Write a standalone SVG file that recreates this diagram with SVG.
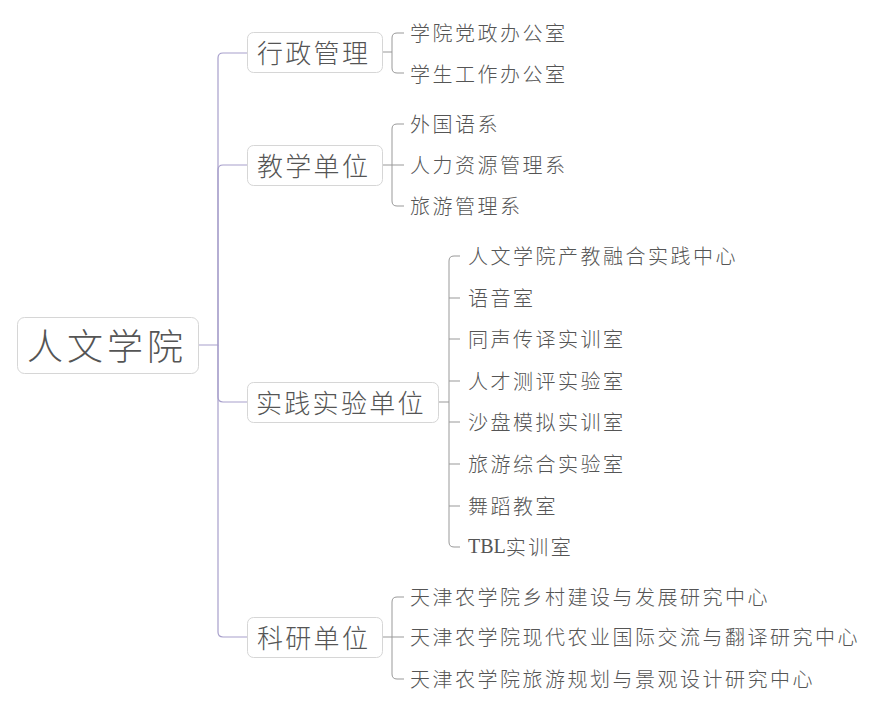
<svg xmlns="http://www.w3.org/2000/svg" width="878" height="708" viewBox="0 0 878 708">
<style>
text{font-family:"Noto Sans CJK SC","Liberation Sans",sans-serif;fill:#555;dominant-baseline:central;font-weight:300}
.box{fill:#fff;stroke:#d6d6d6;stroke-width:1}
.root{font-size:36px;letter-spacing:4px}
.br{font-size:26px;letter-spacing:2.3px}
.leaf{font-size:20px;letter-spacing:2.5px}
.lat{font-family:"Liberation Serif",serif;letter-spacing:0}
.main{fill:none;stroke:#a79fcb;stroke-width:1.2}
.sub{fill:none;stroke:#999;stroke-width:1}
</style>
<rect width="878" height="708" fill="#fff"/>
<g id="connectors">
<path class="main" d="M199,345 H218 V58 Q218,53 223,53 H248"/>
<path class="main" d="M218,345 V170 Q218,165 223,165 H248"/>
<path class="main" d="M218,345 V397 Q218,402 223,402 H248"/>
<path class="main" d="M218,345 V632 Q218,637 223,637 H248"/>
<path class="sub" d="M383,52 H392 M392,52 V38 Q392,33 397,33 H404 M392,52 V68 Q392,73 397,73 H404"/>
<path class="sub" d="M383,165 H404 M392,165 V129 Q392,124 397,124 H404 M392,165 V201 Q392,206 397,206 H404"/>
<path class="sub" d="M439,402 H449 M449,402 V261 Q449,256 454,256 H460 M449,298 H460 M449,339 H460 M449,381 H460 M449,422 H460 M449,464 H460 M449,506 H460 M449,402 V542 Q449,547 454,547 H460"/>
<path class="sub" d="M383,637 H404 M392,637 V602 Q392,597 397,597 H404 M392,637 V674 Q392,679 397,679 H404"/>
</g>
<g id="root">
<rect class="box" x="17.5" y="317.5" width="181" height="56" rx="7"/>
<text class="root" x="27" y="344">人文学院</text>
</g>
<g id="n1">
<rect class="box" x="247.5" y="32.5" width="135" height="40" rx="6"/>
<text class="br" x="257" y="51">行政管理</text>
</g>
<g id="n2">
<rect class="box" x="247.5" y="145.5" width="135" height="40" rx="6"/>
<text class="br" x="257" y="164">教学单位</text>
</g>
<g id="n3">
<rect class="box" x="247.5" y="382.5" width="191" height="40" rx="6"/>
<text class="br" x="256" y="401">实践实验单位</text>
</g>
<g id="n4">
<rect class="box" x="247.5" y="617.5" width="135" height="40" rx="6"/>
<text class="br" x="257" y="636">科研单位</text>
</g>
<g id="leaves1">
<text class="leaf" x="410" y="32">学院党政办公室</text>
<text class="leaf" x="410" y="73">学生工作办公室</text>
</g>
<g id="leaves2">
<text class="leaf" x="410" y="123">外国语系</text>
<text class="leaf" x="410" y="164">人力资源管理系</text>
<text class="leaf" x="410" y="205">旅游管理系</text>
</g>
<g id="leaves3">
<text class="leaf" x="468" y="255">人文学院产教融合实践中心</text>
<text class="leaf" x="468" y="297">语音室</text>
<text class="leaf" x="468" y="338">同声传译实训室</text>
<text class="leaf" x="468" y="380">人才测评实验室</text>
<text class="leaf" x="468" y="421">沙盘模拟实训室</text>
<text class="leaf" x="468" y="463">旅游综合实验室</text>
<text class="leaf" x="468" y="505">舞蹈教室</text>
<text class="leaf" x="468" y="546"><tspan class="lat">TBL</tspan>实训室</text>
</g>
<g id="leaves4">
<text class="leaf" x="410" y="596">天津农学院乡村建设与发展研究中心</text>
<text class="leaf" x="410" y="636">天津农学院现代农业国际交流与翻译研究中心</text>
<text class="leaf" x="410" y="678">天津农学院旅游规划与景观设计研究中心</text>
</g>
</svg>
